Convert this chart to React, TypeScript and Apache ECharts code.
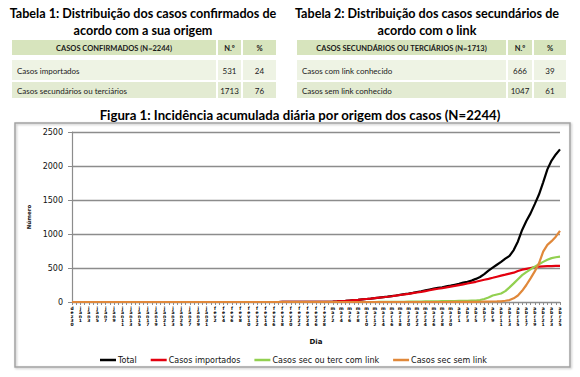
import { useEffect, useRef } from "react";
import * as echarts from "echarts";

// ---- Data ----
const monthNames = ["dez", "jan", "fev", "mar", "abr"];
const monthLengths = [31, 31, 28, 31, 30];
const firstDay = 30; // 30-dez
const dayCount = 117;

const seriesNames = ["Total", "Casos importados", "Casos sec ou terc com link", "Casos sec sem link"];

const totalCases = [
  0, 0, 0, 0, 0, 0, 0, 0, 0, 0, 0, 0, 0, 0, 0, 0, 0, 0, 0, 0, 0, 0, 0, 0, 0,
  0, 0, 0, 0, 0, 0, 0, 0, 0, 0, 0, 0, 0, 0, 0, 0, 0, 0, 0, 0, 0, 0, 0, 0, 0,
  1, 1, 1, 1, 1, 1, 2, 2, 2, 2,
  3, 4, 6, 9, 13, 17, 22, 27, 32, 38, 44, 50, 57,
  64, 71, 78, 87, 96, 106, 115, 124, 135, 147, 158, 171, 184, 197, 207, 217, 229, 241, 254,
  267, 285, 298, 315, 340, 368, 410, 460, 505, 548, 590, 638, 678, 764, 890, 1060, 1190, 1303,
  1440, 1580, 1760, 1950, 2080, 2170, 2244,
];

const importedCases = [
  0, 0, 0, 0, 0, 0, 0, 0, 0, 0, 0, 0, 0, 0, 0, 0, 0, 0, 0, 0, 0, 0, 0, 0, 0,
  0, 0, 0, 0, 0, 0, 0, 0, 0, 0, 0, 0, 0, 0, 0, 0, 0, 0, 0, 0, 0, 0, 0, 0, 0,
  1, 1, 1, 1, 1, 1, 2, 2, 2, 2,
  3, 4, 6, 9, 13, 17, 22, 27, 32, 38, 44, 50, 57,
  63, 70, 77, 85, 94, 103, 112, 120, 130, 140,
  149, 161, 173, 186, 195, 204, 214, 225, 236, 248,
  260, 272, 284, 297, 312, 327, 341, 356, 372, 388,
  402, 417, 431, 455, 475, 488, 500, 512, 520, 524,
  527, 529, 530, 531,
];

const linkedCases = [
  0, 0, 0, 0, 0, 0, 0, 0, 0, 0, 0, 0, 0, 0, 0, 0, 0, 0, 0, 0, 0, 0, 0, 0, 0,
  0, 0, 0, 0, 0, 0, 0, 0, 0, 0, 0, 0, 0, 0, 0, 0, 0, 0, 0, 0, 0, 0, 0, 0, 0,
  0, 0, 0, 0, 0, 0, 0, 0, 0, 0, 0, 0, 0, 0, 0, 0, 0, 0, 0, 0, 0, 0, 0,
  1, 1, 2, 2, 3, 3, 4,
  5, 5, 6, 7, 8, 9, 10, 11, 12, 13,
  14, 15, 16, 17, 18, 20,
  22, 29, 45, 66, 95, 110, 125, 160, 215, 274, 335, 395, 440, 480, 520, 555, 590, 620, 645, 658, 666,
];

const unlinkedCases = [
  0, 0, 0, 0, 0, 0, 0, 0, 0, 0, 0, 0, 0, 0, 0, 0, 0, 0, 0, 0, 0, 0, 0, 0, 0,
  0, 0, 0, 0, 0, 0, 0, 0, 0, 0, 0, 0, 0, 0, 0, 0, 0, 0, 0, 0, 0, 0, 0, 0, 0,
  0, 0, 0, 0, 0, 0, 0, 0, 0, 0, 0, 0, 0, 0, 0, 0, 0, 0, 0, 0, 0, 0, 0, 0, 0,
  0, 0, 0, 0, 0, 0, 0, 0, 0, 0, 0, 0, 0, 0, 0,
  1, 1, 1, 2, 2, 3, 3, 4, 5, 6, 7, 8,
  10, 18, 28, 54, 95, 165, 250, 348, 450, 568, 740, 840, 895, 960, 1047,
];

const yTicks = [0, 500, 1000, 1500, 2000, 2500];

const table1Title = ["Tabela 1: Distribuição dos casos confirmados de", "acordo com a sua origem"];
const table1Header = ["CASOS CONFIRMADOS (N=2244)", "N.º", "%"];
const table1Rows = [
  ["Casos importados", "531", "24"],
  ["Casos secundários ou terciários", "1713", "76"],
];
const table2Title = ["Tabela 2: Distribuição dos casos secundários de", "acordo com o link"];
const table2Header = ["CASOS SECUNDÁRIOS OU TERCIÁRIOS (N=1713)", "N.º", "%"];
const table2Rows = [
  ["Casos com link conhecido", "666", "39"],
  ["Casos sem link conhecido", "1047", "61"],
];
const figureTitle = "Figura 1: Incidência acumulada diária por origem dos casos (N=2244)";

// build day categories
const categories: string[] = [];
{
  let m = 0;
  let d = firstDay;
  for (let i = 0; i < dayCount; i++) {
    categories.push(`${monthNames[m]}-${d}`);
    d++;
    if (d > monthLengths[m]) {
      d = 1;
      m++;
    }
  }
}

const TITLE_FONT = "Lato, 'Open Sans', sans-serif";

function buildTable(
  colEdges: number[],
  title: string[],
  header: string[],
  rows: string[][],
  titleCx: number
) {
  const els: any[] = [];
  els.push({
    type: "text",
    x: titleCx,
    y: 13,
    style: { text: title[0], fill: "#000", font: `bold 12.6px ${TITLE_FONT}`, align: "center", verticalAlign: "middle" },
  });
  els.push({
    type: "text",
    x: titleCx,
    y: 30.5,
    style: { text: title[1], fill: "#000", font: `bold 12.6px ${TITLE_FONT}`, align: "center", verticalAlign: "middle" },
  });
  const rowYs = [
    { y: 40, h: 15, fill: "#d7e4bd" },
    { y: 60, h: 20, fill: "#eef3e4" },
    { y: 82, h: 16, fill: "#e3ebd2" },
  ];
  const allRows = [header, ...rows];
  allRows.forEach((r, ri) => {
    const ry = rowYs[ri];
    for (let c = 0; c < 3; c++) {
      const xa = colEdges[c] + (c === 0 ? 0 : 1);
      const xb = colEdges[c + 1] - 1;
      els.push({
        type: "rect",
        shape: { x: xa, y: ry.y, width: xb - xa, height: ry.h },
        style: { fill: ry.fill },
      });
      const isHeader = ri === 0;
      const align = c === 0 && !isHeader ? "left" : "center";
      const tx = c === 0 && !isHeader ? xa + 5 : (xa + xb) / 2;
      els.push({
        type: "text",
        x: tx,
        y: ry.y + ry.h / 2 + 0.5,
        style: {
          text: r[c],
          fill: "#1a1a1a",
          font: `${isHeader ? "bold " : ""}${isHeader ? 7.5 : 8}px ${TITLE_FONT}`,
          align,
          verticalAlign: "middle",
        },
      });
    }
  });
  return els;
}

export default function App() {
  const ref = useRef<HTMLDivElement>(null);
  useEffect(() => {
    if (!ref.current) return;
    const chart = echarts.init(ref.current, undefined, { renderer: "svg" });
    const colors = ["#000000", "#e3000f", "#92d050", "#e0883a"];
    const values = [totalCases, importedCases, linkedCases, unlinkedCases];

    const graphics: any[] = [
      {
        type: "rect",
        shape: { x: 15, y: 123, width: 555, height: 244 },
        style: { fill: "none", stroke: "#a3a3a3", lineWidth: 1.5, shadowBlur: 2, shadowColor: "rgba(0,0,0,0.25)", shadowOffsetX: 1, shadowOffsetY: 1 },
        z: -1,
      },
      ...buildTable([12, 217, 242, 277], table1Title, table1Header, table1Rows, 143),
      ...buildTable([297, 507, 533, 567], table2Title, table2Header, table2Rows, 427),
      {
        type: "text",
        x: 300,
        y: 115,
        style: { text: figureTitle, fill: "#000", font: `bold 13.2px ${TITLE_FONT}`, align: "center", verticalAlign: "middle" },
      },
    ];

    chart.setOption({
      animation: false,
      color: colors,
      textStyle: { fontFamily: "DejaVu Sans" },
      grid: { left: 72, top: 132, right: 20, bottom: 75, containLabel: false },
      legend: {
        left: 95,
        top: 351,
        icon: "rect",
        itemWidth: 16,
        itemHeight: 2.5,
        itemGap: 14,
        data: seriesNames,
        textStyle: { fontSize: 8, color: "#111", fontFamily: "DejaVu Sans", padding: [0, 0, 0, -3] },
      },
      xAxis: {
        type: "category",
        data: categories,
        boundaryGap: false,
        name: "Dia",
        nameLocation: "middle",
        nameGap: 36,
        nameTextStyle: { fontSize: 7, fontWeight: "bold", color: "#111" },
        axisLine: { show: true, lineStyle: { color: "#8c8c8c", width: 1.2 } },
        axisTick: { show: true, interval: 0, length: 3, lineStyle: { color: "#8c8c8c" } },
        axisLabel: {
          interval: 1,
          margin: 4,
          fontSize: 4.5,
          fontWeight: "bold",
          lineHeight: 4,
          color: "#000",
          formatter: (v: string) => v.replace("-", "").split("").join("\n"),
        },
        splitLine: { show: false },
      },
      yAxis: {
        type: "value",
        min: yTicks[0],
        max: yTicks[yTicks.length - 1],
        interval: 500,
        name: "Número",
        nameLocation: "middle",
        nameRotate: 90,
        nameGap: 33,
        nameTextStyle: { fontSize: 5.5, fontWeight: "bold", color: "#111" },
        axisLine: { show: true, lineStyle: { color: "#8c8c8c", width: 1.2 } },
        axisTick: { show: true, length: 4, lineStyle: { color: "#8c8c8c" } },
        axisLabel: { fontSize: 8, color: "#111", margin: 9, formatter: (v: number) => String(v) },
        splitLine: { show: true, lineStyle: { color: "#8c8c8c", width: 1.3 } },
      },
      series: seriesNames.map((name, i) => ({
        name,
        type: "line",
        data: values[i],
        showSymbol: false,
        symbol: "none",
        lineStyle: { width: 2.2, color: colors[i] },
        itemStyle: { color: colors[i] },
      })),
      graphic: graphics,
    });
    return () => chart.dispose();
  }, []);
  return <div ref={ref} style={{ position: "fixed", left: 0, top: 0, width: 580, height: 377, background: "#fff" }} />;
}
